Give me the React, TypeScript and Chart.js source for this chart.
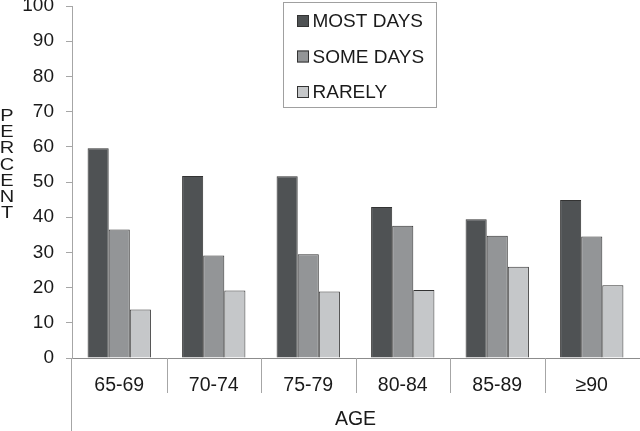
import React, { useEffect, useRef } from "react";
import { Chart, registerables } from "chart.js";

Chart.register(...registerables);

const CATEGORIES = ["65-69", "70-74", "75-79", "80-84", "85-89", "≥90"];
const SERIES_LABELS = ["MOST DAYS", "SOME DAYS", "RARELY"];
const MOST_DAYS = [59.6, 51.7, 51.6, 42.9, 39.4, 44.9];
const SOME_DAYS = [36.5, 29.1, 29.5, 37.6, 34.7, 34.5];
const RARELY = [13.8, 19.2, 18.9, 19.3, 25.9, 20.7];
const Y_TICKS = [0, 10, 20, 30, 40, 50, 60, 70, 80, 90, 100];
const COLORS = ["#4f5254", "#939597", "#c5c7c9"];
const Y_TITLE = "PERCENT";
const X_TITLE = "AGE";

const FONT = "'Liberation Sans', Arial, sans-serif";

const extrasPlugin = {
  id: "extras",
  afterDraw(chart: any) {
    const { ctx, chartArea, scales } = chart;
    const xs = scales.x;
    const ys = scales.y;
    ctx.save();
    ctx.strokeStyle = "#a6a6a6";
    ctx.lineWidth = 1;
    const y0 = ys.getPixelForValue(0);
    const lx = Math.round(chartArea.left) - 0.5;
    ctx.beginPath();
    ctx.moveTo(lx, y0);
    ctx.lineTo(lx, chart.height);
    ctx.stroke();
    for (let i = 1; i < CATEGORIES.length; i++) {
      const bx = Math.round((xs.getPixelForValue(i - 1) + xs.getPixelForValue(i)) / 2) + 0.5;
      ctx.beginPath();
      ctx.moveTo(bx, y0);
      ctx.lineTo(bx, y0 + 35);
      ctx.stroke();
    }
    // vertical stacked y title
    ctx.fillStyle = "#1a1a1a";
    ctx.font = `16px ${FONT}`;
    ctx.textAlign = "center";
    ctx.textBaseline = "alphabetic";
    Y_TITLE.split("").forEach((ch, i) => {
      ctx.save();
      ctx.translate(7, 121 + i * 16.2);
      ctx.scale(1.25, 1);
      ctx.fillText(ch, 0, 0);
      ctx.restore();
    });
    // legend
    const bx0 = 283.5, by0 = 2.5, bw = 153, bh = 105;
    ctx.strokeStyle = "#a0a0a0";
    ctx.strokeRect(bx0, by0, bw, bh);
    ctx.font = `19px ${FONT}`;
    ctx.textAlign = "left";
    ctx.textBaseline = "middle";
    chart.data.datasets.forEach((ds: any, i: number) => {
      const cy = 21 + i * 35.5;
      ctx.fillStyle = ds.backgroundColor;
      ctx.fillRect(297, cy - 6, 12, 12);
      ctx.strokeStyle = "#333333";
      ctx.strokeRect(297.5, cy - 5.5, 11, 11);
      ctx.fillStyle = "#1a1a1a";
      ctx.fillText(ds.label, 312.5, cy + 1);
    });
    ctx.restore();
  },
};

export default function App() {
  const ref = useRef<HTMLCanvasElement | null>(null);
  useEffect(() => {
    if (!ref.current) return;
    Chart.defaults.font.family = FONT;
    const series = [MOST_DAYS, SOME_DAYS, RARELY];
    const chart = new Chart(ref.current, {
      type: "bar",
      data: {
        labels: CATEGORIES,
        datasets: series.map((d, i) => ({
          label: SERIES_LABELS[i],
          data: d,
          backgroundColor: COLORS[i],
          borderColor: "#333333",
          borderWidth: 1,
          categoryPercentage: 0.67,
          barPercentage: 1,
        })),
      },
      options: {
        animation: false,
        responsive: true,
        maintainAspectRatio: false,
        layout: { padding: { top: 6, right: 1, left: 0, bottom: 0 } },
        plugins: {
          legend: { display: false },
          tooltip: { enabled: false },
        },
        scales: {
          x: {
            grid: { display: false },
            border: { display: true, color: "#8c8c8c" },
            ticks: { color: "#1a1a1a", font: { size: 19.5 }, padding: 8, maxRotation: 0 },
            title: {
              display: true,
              text: X_TITLE,
              color: "#1a1a1a",
              font: { size: 19.5 },
              padding: { top: 0, bottom: 0 },
            },
            afterFit: (s: any) => {
              s.height = 73;
            },
          },
          y: {
            min: 0,
            max: 100,
            afterBuildTicks: (s: any) => {
              s.ticks = Y_TICKS.map((v) => ({ value: v }));
            },
            grid: {
              display: true,
              drawOnChartArea: false,
              drawTicks: true,
              tickLength: 6,
              color: "#a6a6a6",
            },
            border: { display: true, color: "#a6a6a6" },
            ticks: { color: "#1a1a1a", font: { size: 19 }, padding: 12 },
            afterFit: (s: any) => {
              s.width = 72;
              s.paddingTop = 0;
              s.paddingBottom = 0;
            },
          },
        },
      },
      plugins: [extrasPlugin],
    });
    return () => chart.destroy();
  }, []);
  return (
    <div style={{ position: "absolute", left: 0, top: 0, width: 640, height: 431, background: "#fff" }}>
      <canvas ref={ref} />
    </div>
  );
}
